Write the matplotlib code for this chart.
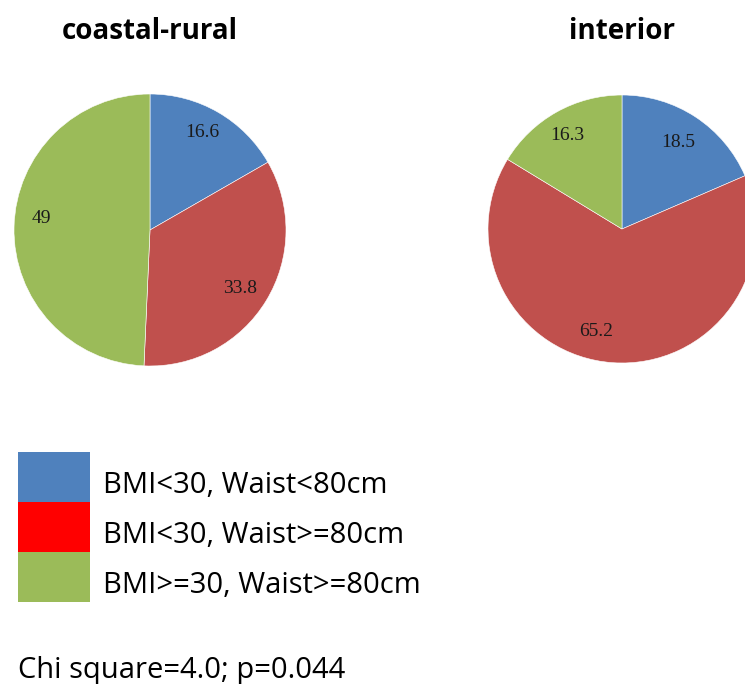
import matplotlib
matplotlib.use("Agg")
import matplotlib.pyplot as plt
import matplotlib.patches as mpatches
from matplotlib.legend_handler import HandlerPatch
import numpy as np

# data
groups = ["coastal-rural", "interior"]
categories = ["BMI<30, Waist<80cm", "BMI<30, Waist>=80cm", "BMI>=30, Waist>=80cm"]
coastal_vals = [16.6, 33.8, 49]
interior_vals = [18.5, 65.2, 16.3]
coastal_txt = ["16.6", "33.8", "49"]
interior_txt = ["18.5", "65.2", "16.3"]

pie_colors = ["#4F81BD", "#C0504D", "#9BBB59"]
legend_colors = ["#4F81BD", "#FF0000", "#9BBB59"]

W, H = 745, 684
fig = plt.figure(figsize=(W / 100, H / 100), dpi=100)


def px_axes(cx, cy, r):
    return fig.add_axes([(cx - r) / W, 1 - (cy + r) / H, 2 * r / W, 2 * r / H])


def draw_pie(ax, vals, txt, title, nudges, tx):
    wedges, _ = ax.pie(vals, colors=pie_colors, startangle=90, counterclock=False,
                       wedgeprops=dict(edgecolor="white", linewidth=0.4))
    ax.set_xlim(-1, 1)
    ax.set_ylim(-1, 1)
    ax.set_aspect("equal")
    ax.axis("off")
    for w, t, (da, rr) in zip(wedges, txt, nudges):
        ang = np.deg2rad((w.theta1 + w.theta2) / 2 + da)
        ax.text(rr * np.cos(ang), rr * np.sin(ang), t, ha="center", va="center",
                fontsize=14, family="Liberation Serif", color="#1a1a1a")
    fig.text(tx / W, 1 - 39 / H, title, ha="center", va="baseline",
             fontsize=20, fontweight="bold", family="Open Sans")


ax1 = px_axes(150, 230, 136)
draw_pie(ax1, coastal_vals, coastal_txt, groups[0],
         [(2, 0.81), (-1.5, 0.79), (-5, 0.80)], 150)
ax2 = px_axes(622, 229, 134)
draw_pie(ax2, interior_vals, interior_txt, groups[1],
         [(0.5, 0.77), (-10, 0.79), (1, 0.81)], 622)

fs = 21
shift = 0.237  # box raised a bit relative to the text baseline, as in the source


def raised_rect(legend, orig_handle, xdescent, ydescent, width, height, fontsize):
    return mpatches.Rectangle((-xdescent, -ydescent + shift * fontsize), width, height)


handles = [mpatches.Patch(facecolor=c, edgecolor="none", linewidth=0) for c in legend_colors]
fig.legend(handles, categories, loc="upper left",
           bbox_to_anchor=(18 / W, 1 - (452 + shift * fs * 100 / 72) / H),
           frameon=False, borderpad=0, borderaxespad=0, labelspacing=0,
           handlelength=2.47, handleheight=2.26, handletextpad=0.45,
           handler_map={mpatches.Patch: HandlerPatch(patch_func=raised_rect)},
           prop=dict(family="Open Sans", size=fs))

fig.text(18 / W, 1 - 678 / H, "Chi square=4.0; p=0.044", ha="left", va="baseline",
         fontsize=fs, family="Open Sans")

fig.savefig("out.png", dpi=100)
